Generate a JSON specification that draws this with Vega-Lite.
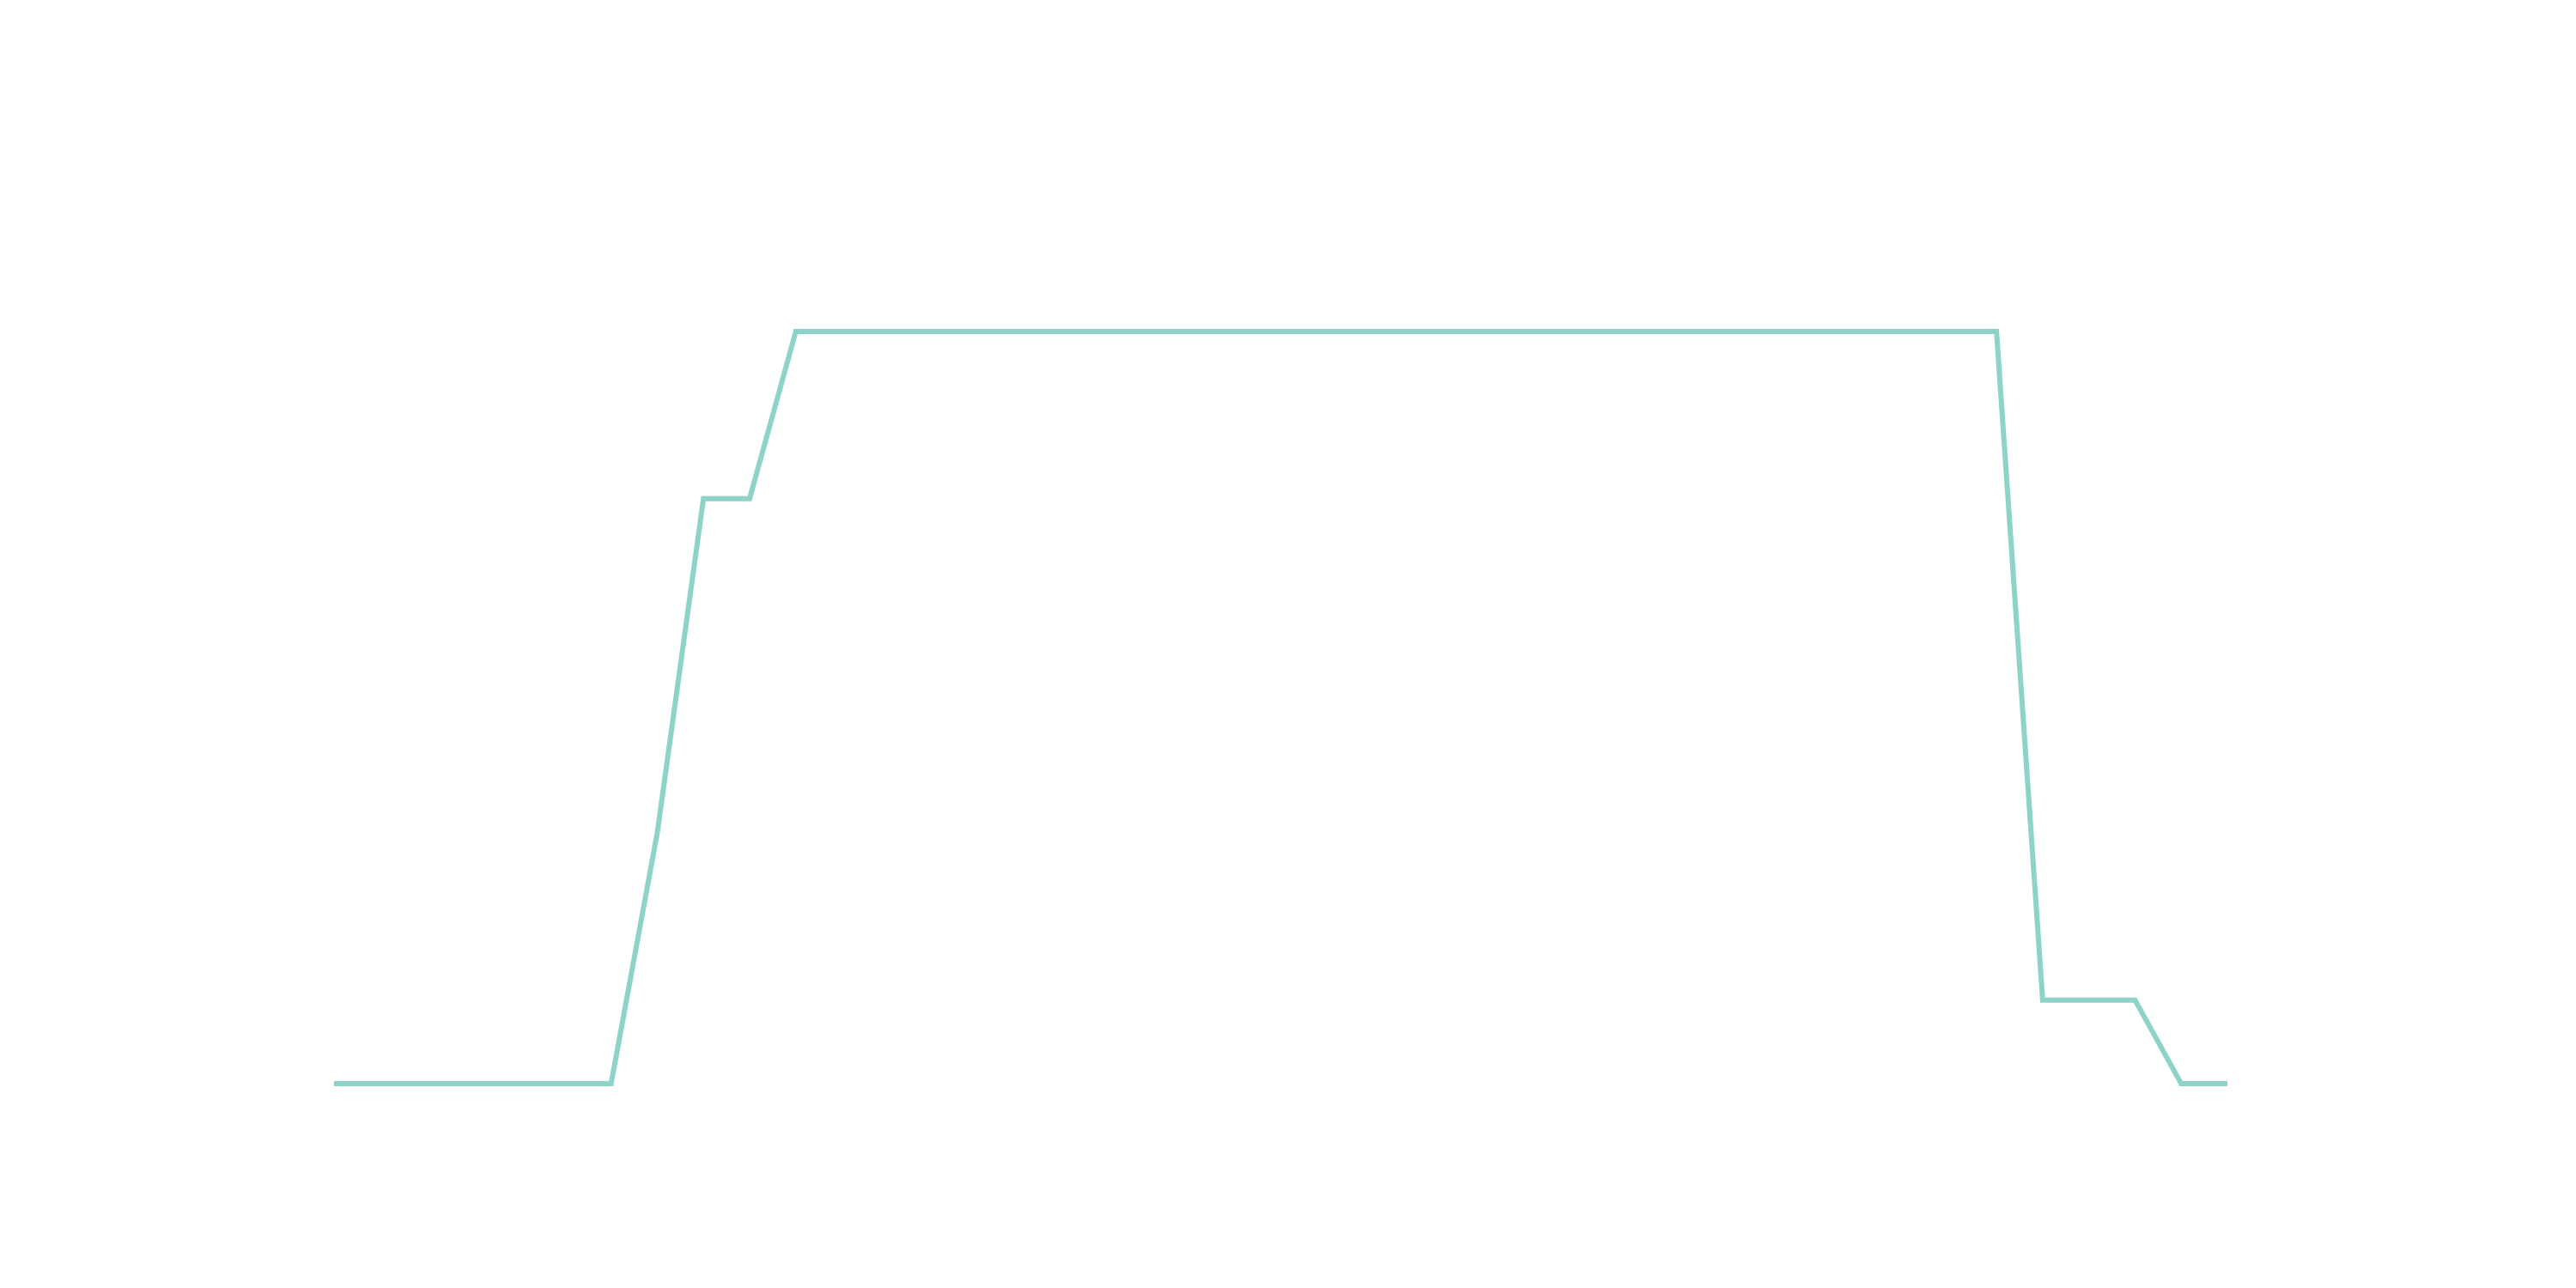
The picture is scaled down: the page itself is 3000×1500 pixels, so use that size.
{
  "$schema": "https://vega.github.io/schema/vega-lite/v6.json",
  "width": 3000,
  "height": 1500,
  "autosize": {"type": "fit", "contains": "padding"},
  "padding": {"left": 377, "right": 394, "top": 374, "bottom": 226},
  "background": "white",
  "config": {"view": {"stroke": null}},
  "data": {
    "values": [
      {"t": 0, "v": 0}, {"t": 1, "v": 0}, {"t": 2, "v": 0}, {"t": 3, "v": 0}, {"t": 4, "v": 0},
      {"t": 5, "v": 0}, {"t": 6, "v": 0}, {"t": 7, "v": 3}, {"t": 8, "v": 7}, {"t": 9, "v": 7},
      {"t": 10, "v": 9}, {"t": 11, "v": 9}, {"t": 12, "v": 9}, {"t": 13, "v": 9}, {"t": 14, "v": 9},
      {"t": 15, "v": 9}, {"t": 16, "v": 9}, {"t": 17, "v": 9}, {"t": 18, "v": 9}, {"t": 19, "v": 9},
      {"t": 20, "v": 9}, {"t": 21, "v": 9}, {"t": 22, "v": 9}, {"t": 23, "v": 9}, {"t": 24, "v": 9},
      {"t": 25, "v": 9}, {"t": 26, "v": 9}, {"t": 27, "v": 9}, {"t": 28, "v": 9}, {"t": 29, "v": 9},
      {"t": 30, "v": 9}, {"t": 31, "v": 9}, {"t": 32, "v": 9}, {"t": 33, "v": 9}, {"t": 34, "v": 9},
      {"t": 35, "v": 9}, {"t": 36, "v": 9}, {"t": 37, "v": 1}, {"t": 38, "v": 1}, {"t": 39, "v": 1},
      {"t": 40, "v": 0}, {"t": 41, "v": 0}
    ]
  },
  "mark": {"type": "line", "color": "#8dd3c7", "strokeWidth": 6},
  "encoding": {
    "x": {"field": "t", "type": "quantitative", "scale": {"domain": [0, 41], "nice": false, "zero": false}, "axis": null},
    "y": {"field": "v", "type": "quantitative", "scale": {"domain": [0, 9], "nice": false}, "axis": null}
  }
}
